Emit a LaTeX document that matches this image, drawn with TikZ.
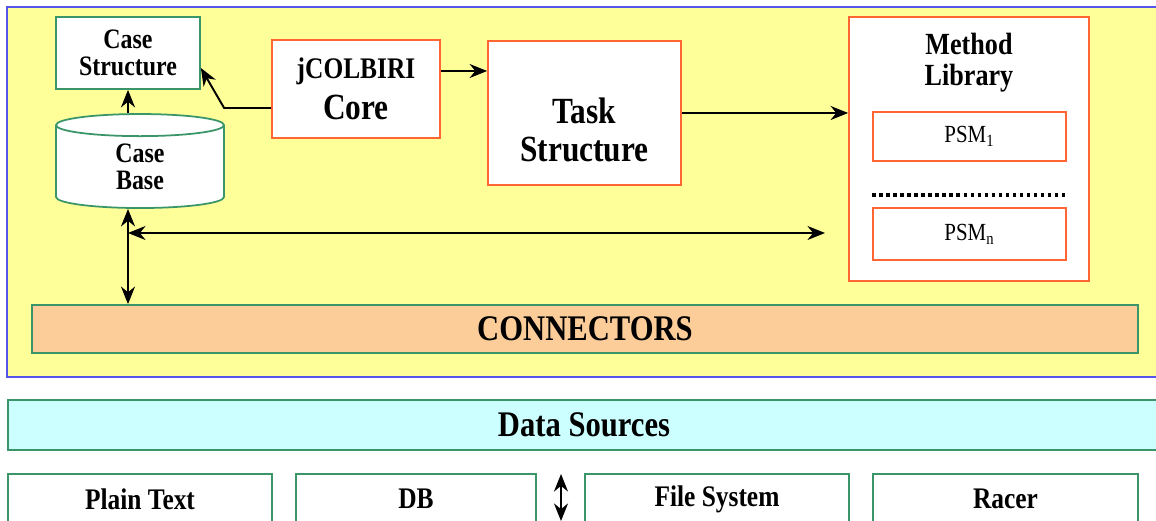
\documentclass[tikz,border=0pt]{standalone}
\usepackage{fontspec}
\setmainfont{Liberation Serif}[FakeStretch=0.85, BoldFont={Liberation Serif Bold}]
\usetikzlibrary{arrows.meta, shapes.geometric, positioning}
\definecolor{blue1}{RGB}{85,85,235}
\definecolor{yellow1}{RGB}{255,255,153}
\definecolor{green1}{RGB}{58,150,105}
\definecolor{orange1}{RGB}{255,102,51}
\definecolor{peach1}{RGB}{252,204,153}
\definecolor{cyan1}{RGB}{204,255,255}
\def\fs#1#2{\fontsize{#1}{#2}\selectfont}

\begin{document}
\begin{tikzpicture}[
    frame/.style={draw=blue1, fill=yellow1, line width=1.2pt, minimum width=23.16cm, minimum height=7.4cm},
    greenbox/.style={draw=green1, fill=white, line width=1pt, align=center, inner sep=0pt, font=\bfseries\fs{16}{15}},
    orangebox/.style={draw=orange1, fill=white, line width=1pt, align=center, inner sep=0pt, font=\bfseries},
    psmbox/.style={draw=orange1, fill=white, line width=1pt, minimum width=3.86cm, font=\fs{14}{15}},
    bar/.style={draw=green1, line width=1pt, font=\bfseries\fs{20.5}{22}},
    srcbox/.style={draw=green1, fill=white, line width=1pt, minimum height=1.0cm, font=\bfseries\fs{17}{18}},
    sigarrow/.style={-{Stealth[length=10pt,width=8pt]}, line width=1.1pt},
    dblarrow/.style={{Stealth[length=10pt,width=8pt]}-{Stealth[length=10pt,width=8pt]}, line width=1.1pt}
]
    \clip (0,0) rectangle (23.12,10.42);

    \node[frame, name=main] at (11.72,6.58) {};

    \node[greenbox, minimum width=2.88cm, minimum height=1.44cm, name=cs] at (2.56,9.36) {Case\\Structure};
    \node[greenbox, cylinder, shape border rotate=90, aspect=0.45, minimum width=3.36cm, minimum height=1.88cm, name=cb] at (2.8,7.08) {Case\\Base};

    \node[orangebox, minimum width=3.36cm, minimum height=1.96cm, name=core] at (7.12,8.64)
        {{\fs{17}{18}jCOLBIRI}\\[5pt]{\fs{21}{20}Core}};
    \node[orangebox, minimum width=3.86cm, minimum height=2.88cm, name=ts] at (11.69,8.16) {};
    \node[align=center, font=\bfseries\fs{21}{22}, name=tstext] at ([yshift=-0.34cm]ts.center) {Task\\Structure};

    \node[orangebox, minimum width=4.8cm, minimum height=5.28cm, name=ml] at (19.38,7.44) {};
    \node[align=center, font=\bfseries\fs{17.5}{17.5}, name=mltitle] at (19.38,9.16) {Method\\Library};
    \node[psmbox, minimum height=0.98cm, name=psm1] at (19.39,7.69) {PSM\textsubscript{1}};
    \node[psmbox, minimum height=1.04cm, name=psmn] at (19.39,5.74) {PSM\textsubscript{n}};
    \draw[line width=2pt, dotted] (psm1.west |- 0,6.52) -- (psm1.east |- 0,6.52);

    \node[bar, fill=peach1, minimum width=22.12cm, minimum height=0.96cm, name=conn] at (11.7,3.84) {CONNECTORS};
    \node[bar, fill=cyan1, minimum width=23.04cm, minimum height=1.0cm, name=ds] at (11.68,1.92) {Data Sources};

    \node[srcbox, minimum width=5.28cm, name=plain] at (2.8,0.44) {Plain Text};
    \node[srcbox, minimum width=4.8cm, name=db] at (8.32,0.44) {DB};
    \node[srcbox, minimum width=5.28cm, name=fsys] at (14.34,0.44) {File System};
    \node[srcbox, minimum width=5.3cm, name=racer] at (20.11,0.44) {Racer};

    \coordinate (bus) at (2.56,5.76);
    \coordinate (busend) at (16.5,5.76);
    \coordinate (dstop) at (11.22,0.94);
    \coordinate (dsbot) at (11.22,0.0);

    \draw[sigarrow] (cs.south |- cb.north) -- (cs.south);
    \draw[sigarrow] ([yshift=-0.38cm]core.west) -- ++(-0.94,0) -- ([yshift=-0.3cm]cs.east);
    \draw[sigarrow] ([yshift=0.36cm]core.east) -- ([yshift=0.36cm]core.east -| ts.west);
    \draw[sigarrow] (ts.east) -- (ts.east -| ml.west);
    \draw[dblarrow] (cs.south |- cb.south) -- (cs.south |- conn.north);
    \draw[dblarrow] (bus) -- (busend);
    \draw[dblarrow] (dstop) -- (dsbot);
\end{tikzpicture}
\end{document}
